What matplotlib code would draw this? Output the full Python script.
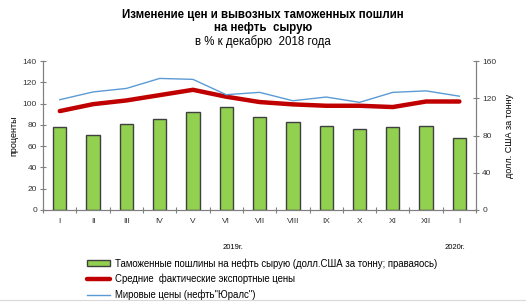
import matplotlib.pyplot as plt
import numpy as np

plt.rcParams['font.family'] = ['Liberation Sans', 'DejaVu Sans']

# months of 2019 plus January 2020
months = ["I", "II", "III", "IV", "V", "VI", "VII", "VIII", "IX", "X", "XI", "XII", "I"]
# customs duties, USD per tonne (right axis)
duties = [89, 81, 92, 98, 105, 111, 100, 95, 90.5, 87, 89, 90.5, 77.5]
# average actual export prices, % of Dec 2018 (left axis)
export_prices = [93, 99.5, 103, 108, 113, 106.5, 101.5, 99.3, 98, 98, 96.8, 102, 102]
# world prices (Urals), % of Dec 2018 (left axis)
urals_prices = [103.7, 111, 114.3, 123.7, 122.8, 108.4, 110.6, 102.7, 106.2, 101.2, 110.6, 112, 107]

fig = plt.figure(figsize=(5.26, 3.07), dpi=100)
ax = fig.add_axes([0.082, 0.316, 0.823, 0.485])
ax2 = ax.twinx()

x = np.arange(len(months))
spine_col = "#808080"

ax2.bar(x, duties, width=0.4, color="#92D050", edgecolor="#404040", linewidth=1,
        label="Таможенные пошлины на нефть сырую (долл.США за тонну; праваяось)")
ax.plot(x, export_prices, color="#C00000", lw=3.2, solid_capstyle="round",
        label="Средние  фактические экспортные цены")
ax.plot(x, urals_prices, color="#5B9BD5", lw=1, label="Мировые цены (нефть\"Юралс\")")

ax.set_zorder(ax2.get_zorder() + 1)
ax.patch.set_visible(False)

ax.set_xlim(-0.5, len(months) - 0.5)
ax.set_ylim(0, 140)
ax2.set_ylim(0, 160)
ax.set_yticks(np.arange(0, 141, 20))
ax2.set_yticks(np.arange(0, 161, 40))
ax.set_xticks(x)
ax.set_xticklabels(months)
ax.set_xticks(np.arange(-0.5, len(months), 1), minor=True)

for a in (ax, ax2):
    for s in a.spines.values():
        s.set_color(spine_col)
    a.spines["top"].set_visible(False)
    a.tick_params(axis="y", labelsize=6, colors="#333333", direction="inout", length=5,
                  width=0.8, color=spine_col, pad=2)
ax.tick_params(axis="x", which="major", length=0, labelsize=6, colors="#333333", pad=6)
ax.tick_params(axis="x", which="minor", direction="inout", length=5, width=0.8, color=spine_col)

ax.set_ylabel("проценты", fontsize=6.5, labelpad=3)
ax2.set_ylabel("долл. США за тонну", fontsize=6.5, rotation=90, labelpad=6)

fig.text(0.5, 0.94, "Изменение цен и вывозных таможенных пошлин", ha="center",
         fontsize=8.3, fontweight="bold")
fig.text(0.5, 0.898, "на нефть  сырую", ha="center", fontsize=8.3, fontweight="bold")
fig.text(0.5, 0.855, "в % к декабрю  2018 года", ha="center", fontsize=8.3)

fig.text(233 / 526, 1 - 249 / 307, "2019г.", ha="center", fontsize=5.5)
fig.text(455 / 526, 1 - 249 / 307, "2020г.", ha="center", fontsize=5.5)

h1, l1 = ax2.get_legend_handles_labels()
h2, l2 = ax.get_legend_handles_labels()
fig.legend(h1 + h2, l1 + l2, loc="upper left", bbox_to_anchor=(0.158, 0.172),
           frameon=False, fontsize=6.9, handlelength=2.4, handleheight=0.6,
           labelspacing=0.55, borderaxespad=0, handletextpad=0.5)

fig.add_artist(plt.Line2D([0, 1], [0.022, 0.022], color="#d9d9d9", lw=0.8))

fig.savefig("out.png", dpi=100)
